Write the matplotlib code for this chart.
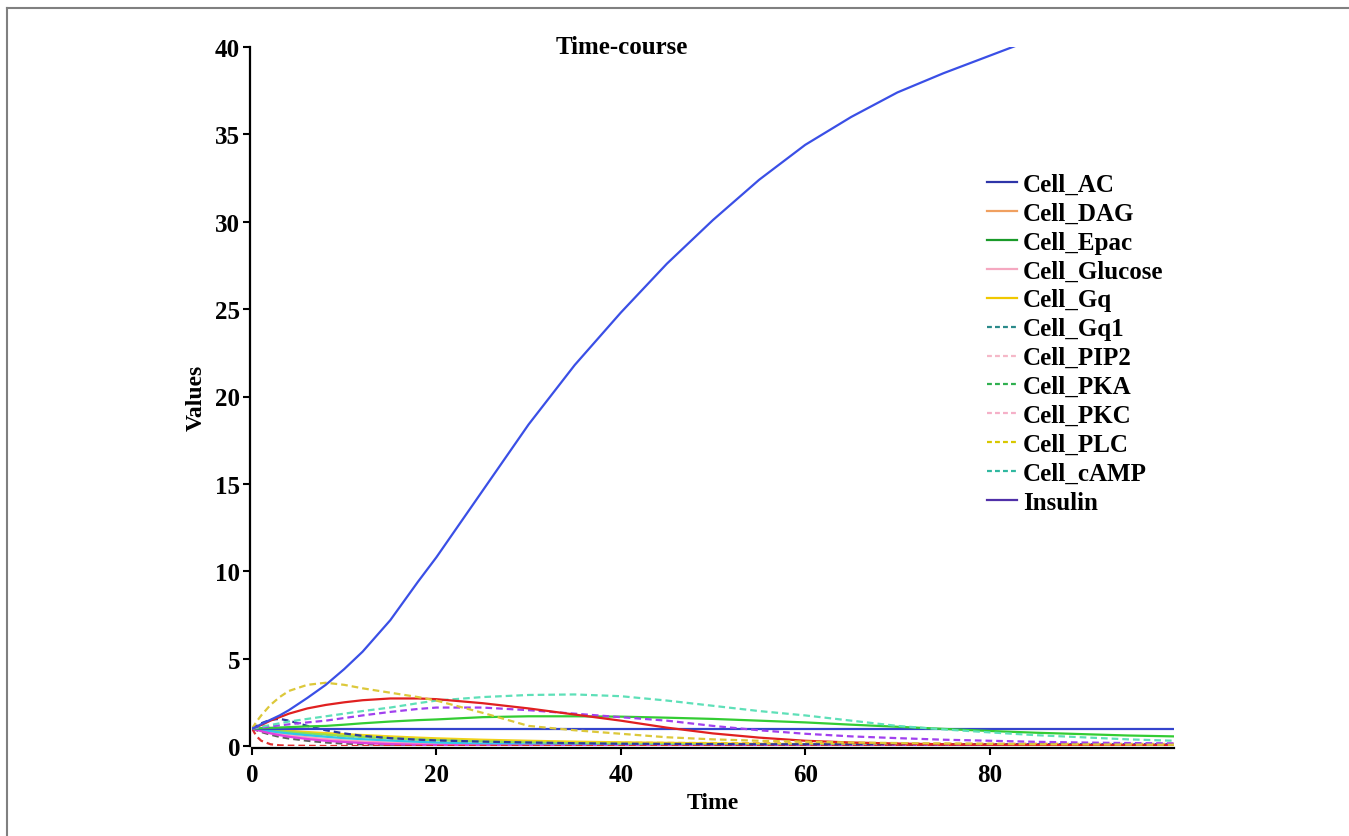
import matplotlib
matplotlib.use("Agg")
import matplotlib.pyplot as plt
from matplotlib.lines import Line2D

plt.rcParams['font.family'] = ['Liberation Serif', 'DejaVu Serif']
plt.rcParams['font.weight'] = 'bold'

# ---------------- data ----------------
time = [0, 0.5, 1, 2, 3, 4, 6, 8, 10, 12, 15, 18, 20, 25, 30, 35, 40, 45, 50,
        55, 60, 65, 70, 75, 80, 85, 90, 95, 100]

rising_blue = [1.0, 1.1, 1.25, 1.5, 1.75, 2.05, 2.75, 3.5, 4.4, 5.4, 7.2, 9.4, 10.8, 14.6,
               18.4, 21.8, 24.8, 27.6, 30.1, 32.4, 34.4, 36.0, 37.4, 38.5, 39.5, 40.5,
               41.4, 42.2, 43.0]
plc_dashed = [1.0, 1.4, 1.75, 2.35, 2.8, 3.15, 3.5, 3.62, 3.5, 3.3, 3.05, 2.8, 2.6, 1.9,
              1.15, 0.9, 0.7, 0.5, 0.38, 0.3, 0.25, 0.2, 0.17, 0.14, 0.12, 0.1, 0.09, 0.08, 0.07]
red_solid = [1.0, 1.1, 1.2, 1.45, 1.65, 1.85, 2.15, 2.35, 2.5, 2.62, 2.72, 2.72, 2.68, 2.45,
             2.15, 1.8, 1.45, 1.05, 0.72, 0.48, 0.3, 0.2, 0.14, 0.1, 0.08, 0.06, 0.05, 0.04, 0.04]
camp_dotted = [1.0, 1.05, 1.1, 1.2, 1.3, 1.4, 1.55, 1.7, 1.85, 2.0, 2.2, 2.45, 2.6, 2.8,
               2.92, 2.95, 2.85, 2.6, 2.3, 2.0, 1.75, 1.45, 1.15, 0.95, 0.78, 0.62, 0.5, 0.38, 0.3]
purple_dashed = [1.0, 1.03, 1.06, 1.12, 1.18, 1.24, 1.35, 1.45, 1.6, 1.75, 1.95, 2.12, 2.2,
                 2.2, 2.05, 1.85, 1.65, 1.45, 1.15, 0.9, 0.7, 0.55, 0.45, 0.36, 0.3, 0.24,
                 0.2, 0.17, 0.15]
green_solid = [1.0, 1.0, 1.02, 1.04, 1.06, 1.08, 1.12, 1.15, 1.22, 1.3, 1.4, 1.48, 1.52,
               1.65, 1.7, 1.7, 1.68, 1.62, 1.55, 1.45, 1.35, 1.22, 1.1, 0.98, 0.86, 0.76,
               0.68, 0.6, 0.55]
flat_blue = [1.0, 1.0, 1.0, 1.0, 1.0, 1.0, 1.0, 1.0, 1.0, 1.0, 1.0, 1.0, 1.0, 1.0, 1.0,
             1.0, 1.0, 1.0, 1.0, 1.0, 1.0, 1.0, 1.0, 1.0, 1.0, 1.0, 1.0, 1.0, 1.0]
navy_dashed = [1.0, 1.15, 1.3, 1.5, 1.55, 1.45, 1.15, 0.9, 0.72, 0.58, 0.45, 0.36, 0.32,
               0.25, 0.2, 0.16, 0.13, 0.12, 0.11, 0.1, 0.1, 0.1, 0.1, 0.1, 0.1, 0.1, 0.1, 0.1, 0.1]
red_dashed = [1.0, 0.55, 0.3, 0.1, 0.04, 0.02, 0.01, 0.0, 0.0, 0.0, 0.0, 0.0, 0.0, 0.0, 0.0,
              0.0, 0.0, 0.0, 0.0, 0.0, 0.0, 0.0, 0.0, 0.0, 0.0, 0.0, 0.0, 0.0, 0.0]
magenta_solid = [1.0, 0.92, 0.85, 0.72, 0.62, 0.53, 0.4, 0.3, 0.23, 0.17, 0.11, 0.07, 0.05,
                 0.03, 0.02, 0.01, 0.0, 0.0, 0.0, 0.0, 0.0, 0.0, 0.0, 0.0, 0.0, 0.0, 0.0, 0.0, 0.0]
cyan_solid = [1.0, 0.96, 0.92, 0.85, 0.78, 0.72, 0.62, 0.53, 0.45, 0.39, 0.31, 0.24, 0.2,
              0.13, 0.09, 0.06, 0.04, 0.03, 0.02, 0.02, 0.01, 0.01, 0.01, 0.0, 0.0, 0.0, 0.0, 0.0, 0.0]
lime_solid = [1.0, 0.97, 0.95, 0.9, 0.85, 0.8, 0.72, 0.65, 0.58, 0.52, 0.45, 0.38, 0.34,
              0.26, 0.2, 0.15, 0.12, 0.09, 0.07, 0.05, 0.04, 0.03, 0.03, 0.02, 0.02, 0.02, 0.01, 0.01, 0.01]
yellow_solid = [1.0, 0.98, 0.96, 0.93, 0.9, 0.87, 0.8, 0.74, 0.68, 0.63, 0.55, 0.48, 0.44,
                0.36, 0.3, 0.25, 0.21, 0.18, 0.15, 0.13, 0.11, 0.1, 0.09, 0.08, 0.07, 0.07, 0.06, 0.06, 0.05]
orange_dashed = [1.0, 0.97, 0.94, 0.88, 0.83, 0.78, 0.7, 0.62, 0.55, 0.5, 0.43, 0.37, 0.34,
                 0.28, 0.24, 0.21, 0.19, 0.18, 0.17, 0.16, 0.15, 0.15, 0.14, 0.14, 0.13, 0.13, 0.12, 0.12, 0.12]
gray_dashed = [1.0, 0.9, 0.8, 0.65, 0.52, 0.43, 0.3, 0.2, 0.14, 0.1, 0.07, 0.05, 0.05, 0.04,
               0.04, 0.03, 0.03, 0.03, 0.03, 0.03, 0.03, 0.03, 0.03, 0.03, 0.03, 0.03, 0.03, 0.03, 0.03]
pink_solid = [1.0, 0.95, 0.9, 0.8, 0.7, 0.62, 0.5, 0.4, 0.32, 0.26, 0.19, 0.14, 0.11, 0.06,
              0.03, 0.02, 0.01, 0.01, 0.0, 0.0, 0.0, 0.0, 0.0, 0.0, 0.0, 0.0, 0.0, 0.0, 0.0]

legend_labels = ['Cell_AC', 'Cell_DAG', 'Cell_Epac', 'Cell_Glucose', 'Cell_Gq', 'Cell_Gq1',
                 'Cell_PIP2', 'Cell_PKA', 'Cell_PKC', 'Cell_PLC', 'Cell_cAMP', 'Insulin']
legend_colors = ['#2e35a8', '#f0a060', '#1a9a2a', '#f5a8c0', '#f0c800', '#2a8a8a',
                 '#f5b8c8', '#30b050', '#f5b0c8', '#d8c800', '#30b8a0', '#5030a8']
legend_dashed = [False, False, False, False, False, True, True, True, True, True, True, False]

x_ticks = [0, 20, 40, 60, 80]
y_ticks = [0, 5, 10, 15, 20, 25, 30, 35, 40]

# ---------------- figure ----------------
W, H = 1349, 837
fig = plt.figure(figsize=(W / 100, H / 100), dpi=100)
ax = fig.add_axes([252 / W, 1 - 747 / H, (1174 - 252) / W, (747 - 48) / H])

dash = (0, (3, 1.8))
lw = 1.6
curves = [
    (gray_dashed, '#606060', dash),
    (pink_solid, '#ff9ec0', '-'),
    (orange_dashed, '#f0a050', dash),
    (yellow_solid, '#f2d21a', '-'),
    (lime_solid, '#8ee050', '-'),
    (cyan_solid, '#30c8e8', '-'),
    (magenta_solid, '#e040e0', '-'),
    (red_dashed, '#e03030', dash),
    (navy_dashed, '#2b3a9e', dash),
    (flat_blue, '#3344cc', '-'),
    (green_solid, '#33cc33', '-'),
    (purple_dashed, '#a040ee', dash),
    (camp_dotted, '#5ee0b8', dash),
    (red_solid, '#e02020', '-'),
    (plc_dashed, '#dcc83a', dash),
    (rising_blue, '#3a4fe6', '-'),
]
for vals, col, ls in curves:
    ax.plot(time, vals, color=col, linestyle=ls, linewidth=lw)

ax.set_xlim(0, 100)
ax.set_ylim(0, 40)
ax.set_xticks(x_ticks)
ax.set_yticks(y_ticks)
for s in ['top', 'right']:
    ax.spines[s].set_visible(False)
for s in ['left', 'bottom']:
    ax.spines[s].set_linewidth(1.6)
    ax.spines[s].set_position(('outward', 1.5))
ax.tick_params(direction='out', length=5, width=1.5, labelsize=18)
ax.tick_params(axis='x', pad=6)
ax.tick_params(axis='y', pad=2)
for lab in ax.get_xticklabels() + ax.get_yticklabels():
    lab.set_fontweight('bold')

ax.set_xlabel('Time', fontsize=17, fontweight='bold', labelpad=4)
ax.set_ylabel('Values', fontsize=17, fontweight='bold', labelpad=6)
fig.text(622 / W, 1 - 47 / H, 'Time-course', ha='center', va='center',
         fontsize=18, fontweight='bold')

handles = [Line2D([], [], color=c, linestyle=((0, (2.2, 1.4)) if d else '-'), linewidth=1.6)
           for c, d in zip(legend_colors, legend_dashed)]
leg = fig.legend(handles, legend_labels, loc='upper left',
                 bbox_to_anchor=(987 / W, 1 - 174 / H), frameon=False,
                 fontsize=18, handlelength=1.2, handletextpad=0.25,
                 labelspacing=0.235, borderpad=0, borderaxespad=0)
for t in leg.get_texts():
    t.set_fontweight('bold')

# outer grey frame (top and left edges visible)
fig.add_artist(Line2D([7 / W, 7 / W], [0, 1 - 9 / H], color='#808080', linewidth=1.5,
                      transform=fig.transFigure))
fig.add_artist(Line2D([7 / W, 1], [1 - 9 / H, 1 - 9 / H], color='#808080', linewidth=1.5,
                      transform=fig.transFigure))

fig.savefig('out.png', dpi=100)
